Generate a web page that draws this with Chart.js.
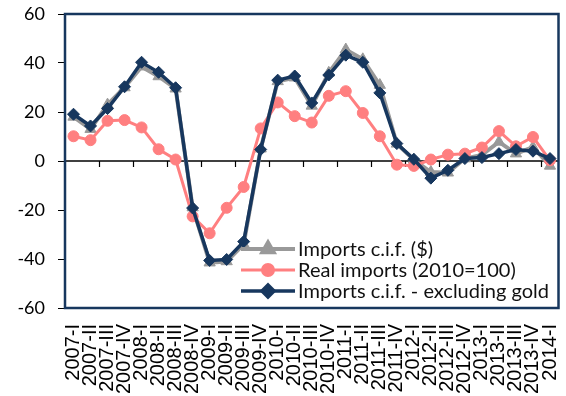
<!DOCTYPE html>
<html>
<head>
<meta charset="utf-8">
<script src="https://cdn.jsdelivr.net/npm/chart.js@4.4.1/dist/chart.umd.min.js"></script>
<style>
  html, body { margin: 0; padding: 0; background: #ffffff; }
  #wrap { width: 566px; height: 396px; }
</style>
</head>
<body>
<div id="wrap"><canvas id="c" width="566" height="396"></canvas></div>
<script>
// Quarterly import growth, % change
const quarters = [
  '2007-I', '2007-II', '2007-III', '2007-IV',
  '2008-I', '2008-II', '2008-III', '2008-IV',
  '2009-I', '2009-II', '2009-III', '2009-IV',
  '2010-I', '2010-II', '2010-III', '2010-IV',
  '2011-I', '2011-II', '2011-III', '2011-IV',
  '2012-I', '2012-II', '2012-III', '2012-IV',
  '2013-I', '2013-II', '2013-III', '2013-IV',
  '2014-I'
];
const importsCif = [18, 13, 23, 30, 38.5, 34.5, 29.5, -19, -41.5, -41, -34, 5,
  32.5, 34, 22.5, 36, 45.5, 41.5, 31, 7, 0.5, -4.5, -4.8, 1, 2.5, 7.8, 3, 5.7, -2];
const realImports = [10.1, 8.5, 16.4, 16.7, 13.7, 4.8, 0.6, -22.6, -29.5, -19.1, -10.6, 13.3,
  23.9, 18.3, 15.7, 26.6, 28.5, 19.6, 10.1, -1.5, -2.0, 0.6, 2.6, 3.0, 5.5, 12.2, 6.0, 9.8, 0.3];
const importsExGold = [19.1, 14.3, 21.4, 30.3, 40.3, 36.2, 29.9, -19.2, -40.6, -40.2, -32.9, 4.7,
  33.0, 34.7, 23.7, 35.1, 43.2, 40.3, 27.8, 7.1, 0.7, -7.0, -3.8, 1.0, 1.4, 3.0, 4.7, 4.0, 1.0];
const yTicks = [-60, -40, -20, 0, 20, 40, 60];

const NAVY = '#17375e';
const PINK = '#ff7f80';
const GREY = '#999999';
const LEGEND_FONT = '20px "Lato", "DejaVu Sans", sans-serif';

// Zero line with tick marks, plot frame and in-plot legend
const decorations = {
  id: 'decorations',
  beforeDatasetsDraw(chart) {
    const { ctx, chartArea: a, scales: { y } } = chart;
    const y0 = y.getPixelForValue(0);
    const w = (a.right - a.left) / quarters.length;
    ctx.save();
    ctx.strokeStyle = '#000';
    ctx.lineWidth = 1.5;
    ctx.beginPath();
    ctx.moveTo(a.left, y0);
    ctx.lineTo(a.right, y0);
    ctx.stroke();
    ctx.lineWidth = 1.2;
    for (let k = 2; k < quarters.length; k += 2) {
      const px = Math.round(a.left + k * w) + 0.5;
      ctx.beginPath();
      ctx.moveTo(px, y0);
      ctx.lineTo(px, y0 + 6);
      ctx.stroke();
    }
    ctx.restore();
  },
  afterDatasetsDraw(chart) {
    const { ctx, chartArea: a } = chart;
    ctx.save();
    ctx.strokeStyle = NAVY;
    ctx.lineWidth = 2.5;
    ctx.strokeRect(a.left, a.top, a.right - a.left, a.bottom - a.top);

    // legend
    const items = chart.data.datasets;
    const x1 = a.left + 176, x2 = a.left + 230;
    const rows = [249, 270, 291];
    ctx.font = LEGEND_FONT;
    ctx.textBaseline = 'middle';
    ctx.textAlign = 'left';
    items.forEach((ds, i) => {
      const yy = rows[i];
      ctx.strokeStyle = ds.borderColor;
      ctx.lineWidth = ds.borderWidth;
      ctx.beginPath();
      ctx.moveTo(x1, yy);
      ctx.lineTo(x2, yy);
      ctx.stroke();
      ctx.fillStyle = ds.pointBackgroundColor;
      ctx.strokeStyle = ds.pointBorderColor;
      Chart.helpers.drawPoint(ctx, {
        pointStyle: ds.pointStyle, radius: ds.pointRadius, rotation: 0, borderWidth: 1
      }, (x1 + x2) / 2, yy);
      ctx.fillStyle = '#111';
      ctx.fillText(ds.label, x2 + 3, yy + 1);
    });
    ctx.restore();
  }
};

const series = [
  { label: 'Imports c.i.f. ($)', data: importsCif, color: GREY, style: 'triangle', r: 6.5, lw: 4, order: 3 },
  { label: 'Real imports (2010=100)', data: realImports, color: PINK, style: 'circle', r: 5.5, lw: 3, order: 2 },
  { label: 'Imports c.i.f. - excluding gold', data: importsExGold, color: NAVY, style: 'rectRot', r: 6, lw: 3.5, order: 1 }
];

function noEdgePadding(scale) {
  scale.paddingTop = 0;
  scale.paddingBottom = 0;
  scale.paddingLeft = 0;
  scale.paddingRight = 0;
}

new Chart(document.getElementById('c'), {
  type: 'line',
  data: {
    labels: quarters,
    datasets: series.map(s => ({
      label: s.label,
      data: s.data,
      borderColor: s.color,
      backgroundColor: s.color,
      pointBackgroundColor: s.color,
      pointBorderColor: s.color,
      borderWidth: s.lw,
      pointStyle: s.style,
      pointRadius: s.r,
      pointBorderWidth: 1,
      tension: 0,
      order: s.order
    }))
  },
  options: {
    responsive: false,
    animation: false,
    layout: { padding: { top: 14, right: 4, left: 0, bottom: 0 } },
    plugins: { legend: { display: false }, tooltip: { enabled: false }, title: { display: false } },
    scales: {
      x: {
        type: 'category',
        offset: true,
        grid: { display: false },
        border: { display: false },
        afterFit(scale) { scale.height = 88; noEdgePadding(scale); },
        ticks: {
          autoSkip: false,
          minRotation: 90,
          maxRotation: 90,
          padding: 8,
          color: '#000',
          font: { family: '"Liberation Sans Narrow", "Liberation Sans", Arial, sans-serif', size: 20 }
        }
      },
      y: {
        min: -60,
        max: 60,
        afterBuildTicks(scale) { scale.ticks = yTicks.map(v => ({ value: v })); },
        afterFit(scale) { scale.width = 65; noEdgePadding(scale); },
        grid: { drawOnChartArea: false, drawTicks: true, tickLength: 7, color: '#000', lineWidth: 1 },
        border: { display: false },
        ticks: {
          padding: 13,
          color: '#000',
          font: { family: '"Lato", "DejaVu Sans", sans-serif', size: 18 }
        }
      }
    }
  },
  plugins: [decorations]
});
</script>
</body>
</html>
